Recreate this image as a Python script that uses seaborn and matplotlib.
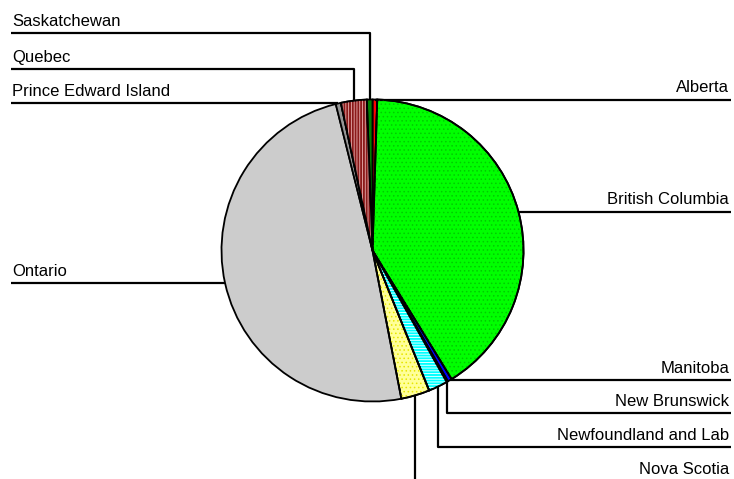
import numpy as np
import matplotlib
matplotlib.use("Agg")
import matplotlib.pyplot as plt
from matplotlib.patches import Wedge
import seaborn as sns

# ---- data ----
provinces = ["Alberta", "British Columbia", "Manitoba", "New Brunswick",
             "Newfoundland and Lab", "Nova Scotia", "Ontario",
             "Prince Edward Island", "Quebec", "Saskatchewan"]
shares = [0.5, 40.6, 0.45, 0.15, 2.05, 3.05, 49.0, 0.55, 2.75, 0.6]

# ---- styles ----
face_colors = ["#FF0000", "#00FF00", "#0000FF", "#000080", "#00FFFF",
               "#FFFF99", "#CCCCCC", "#969696", "#8B1A1A", "#008000"]
hatches = [None, "....", None, None, "------", "....", None, None, "||||||", None]
hatch_colors = [None, "#00CC00", None, None, "#FFFFFF", "#E6E600", None, None, "#E8B0B0", None]
# label side and level of the horizontal leader line (pixels from top; None = straight out)
sides = ["R", "R", "R", "R", "R", "R", "L", "L", "L", "L"]
levels = [None, None, None, 413, 447, 481, None, None, 69, 33]

W, H = 734, 479
sns.set_theme(style="white")
plt.rcParams["font.family"] = ["Liberation Sans", "DejaVu Sans"]
plt.rcParams["hatch.linewidth"] = 0.6

fig = plt.figure(figsize=(W / 100, H / 100), dpi=100)
ax = fig.add_axes([0, 0, 1, 1])

cx, cy, R = 372.5, H - 250.5, 151
wedges, _ = ax.pie(shares, colors=face_colors, startangle=90, counterclock=False,
                   center=(cx, cy), radius=R, frame=True,
                   wedgeprops=dict(edgecolor="black", linewidth=1.3))
ax.set_xlim(0, W)
ax.set_ylim(0, H)
ax.set_aspect("equal")
ax.axis("off")

for w, hatch, hc in zip(wedges, hatches, hatch_colors):
    if hatch:
        ov = Wedge(w.center, w.r, w.theta1, w.theta2, facecolor="none",
                   edgecolor=hc, linewidth=0, hatch=hatch, zorder=w.get_zorder() + 0.1)
        ax.add_patch(ov)
        ol = Wedge(w.center, w.r, w.theta1, w.theta2, facecolor="none",
                   edgecolor="black", linewidth=1.3, zorder=w.get_zorder() + 0.2)
        ax.add_patch(ol)

lw = 1.6
for w, name, side, lvl in zip(wedges, provinces, sides, levels):
    mid = np.deg2rad((w.theta1 + w.theta2) / 2)
    px = cx + R * np.cos(mid)
    py = cy + R * np.sin(mid)
    ly = py if lvl is None else H - lvl
    xs, ys = [px], [py]
    if lvl is not None:
        xs.append(px); ys.append(ly)
    if side == "R":
        xs.append(731); ys.append(ly)
        ax.text(729, ly + 7.5, name, ha="right", va="baseline", fontsize=12, color="black")
    else:
        xs.append(11); ys.append(ly)
        ax.text(12, ly + 7.5, name, ha="left", va="baseline", fontsize=12, color="black")
    ax.plot(xs, ys, color="black", linewidth=lw, solid_capstyle="butt", zorder=1)

fig.savefig("out.png", dpi=100)
